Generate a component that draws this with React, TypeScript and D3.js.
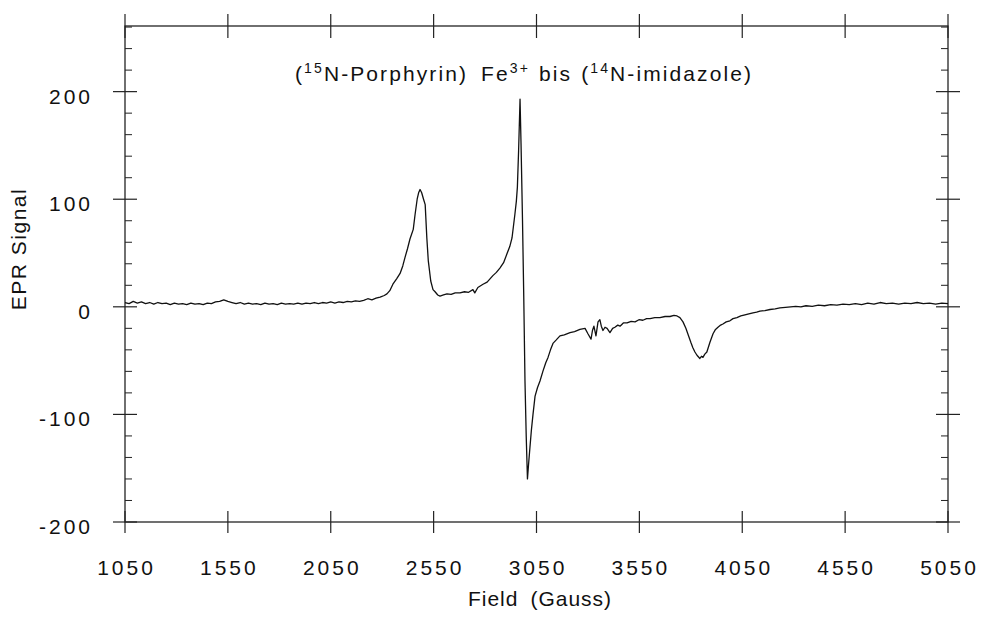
import React from "react";
import * as d3 from "d3";

const fieldGauss: number[] = [
  1050, 1070, 1090, 1110, 1130, 1150, 1170, 1190, 1210, 1230, 1250, 1270, 1290, 1310, 1330, 1350, 1370, 1390, 1410, 1430,
  1450, 1470, 1490, 1510, 1530, 1550, 1570, 1590, 1610, 1630, 1650, 1670, 1690, 1710, 1730, 1750, 1770, 1790, 1810, 1830,
  1850, 1870, 1890, 1910, 1930, 1950, 1970, 1990, 2010, 2030, 2050, 2070, 2090, 2110, 2130, 2150, 2170, 2190, 2210, 2230,
  2250, 2270, 2290, 2310, 2323, 2337, 2352, 2370, 2387, 2400, 2411, 2423, 2435, 2451, 2460, 2470, 2477, 2484, 2492, 2501,
  2509, 2517, 2524, 2536, 2547, 2557, 2570, 2581, 2598, 2615, 2635, 2655, 2678, 2700, 2720, 2741, 2750, 2765, 2790, 2810,
  2838, 2855, 2872, 2890, 2906, 2920, 2931, 2945, 2952, 2957, 2963, 2970, 2975, 2982, 2988, 2994, 3000, 3006, 3012, 3018,
  3025, 3033, 3043, 3055, 3067, 3081, 3095, 3106, 3118, 3130, 3145, 3164, 3185, 3213, 3235, 3261, 3286, 3300, 3315, 3322,
  3329, 3339, 3349, 3358, 3365, 3373, 3383, 3393, 3407, 3420, 3431, 3445, 3456, 3472, 3490, 3510, 3529, 3548, 3567, 3585,
  3602, 3625, 3650, 3675, 3699, 3718, 3733, 3747, 3762, 3776, 3791, 3800, 3810, 3820, 3830, 3844, 3852, 3859, 3868, 3878,
  3893, 3908, 3920, 3932, 3945, 3956, 3972, 3990, 4005, 4024, 4043, 4063, 4082, 4102, 4120, 4136, 4160, 4185, 4210, 4233,
  4260, 4285, 4310, 4335, 4360, 4390, 4420, 4450, 4480, 4510, 4540, 4570, 4600, 4630, 4660, 4690, 4720, 4750, 4780, 4810,
  4840, 4870, 4900, 4930, 4960, 4990, 5020, 5050,
];

const eprSignal: number[] = [
  4, 3, 5, 3.5, 4.5, 3, 4, 2.5, 4, 3, 3.5, 2, 3.5, 2.5, 3, 2, 3.5, 2.5, 3, 2,
  3.5, 3, 4.5, 5, 6.5, 5, 4, 3, 4, 2.5, 3.5, 2.5, 3, 2, 3.5, 2.5, 3, 2, 3.5, 2.5,
  3, 2.5, 3.5, 2.5, 3.5, 3, 4, 3, 4, 3.5, 4.5, 3.5, 4.5, 4, 5, 4.5, 5.5, 5, 6, 7.5,
  6.5, 8, 9, 10.5, 12, 15, 21, 26, 31, 38, 46, 54, 63, 72, 86, 100, 106, 109, 106, 100,
  95, 64, 43, 24, 16, 14, 11, 10, 11, 12, 11.5, 13, 13, 14, 13.5, 16, 13, 18, 21, 23,
  29, 32, 36, 41, 49, 56, 64, 86, 98, 111, 145, 193, 150, 80, 10, -69, -120, -160, -145, -131,
  -115, -100, -83, -75, -69, -60, -52, -47, -40, -34, -31, -27, -26, -24, -23, -21, -20, -25, -30, -22,
  -18, -27, -14, -12, -18, -22, -19, -20, -24, -20, -19, -17, -18, -15, -15, -13.5, -14, -12, -12.5, -11,
  -11, -10, -10, -9, -9, -8, -8.5, -10, -14, -20, -28, -33, -38, -42, -45, -48, -46, -47, -44, -42,
  -33, -25, -21, -19, -17, -16, -14, -13, -11, -10, -8.5, -7.5, -6.5, -5.6, -5, -4, -3.5, -2.5, -2, -1,
  -0.5, 0, 0.5, 0, 1, 0.5, 1.5, 1, 2, 1.5, 2.5, 2, 3, 2, 3.5, 2.5, 4, 3, 3.5, 2.5,
  3.5, 3, 4, 3, 3.5, 2.5, 3.5, 3,
];

const xTickValues: number[] = [1050, 1550, 2050, 2550, 3050, 3550, 4050, 4550, 5050];
const yTickValues: number[] = [-200, -100, 0, 100, 200];
const yMinorTickValues: number[] = [
  -180, -160, -140, -120, -80, -60, -40, -20, 20, 40, 60, 80, 120, 140, 160, 180, 220, 240, 260,
];

const W = 982;
const H = 617;
const L = 125;
const R = 948;
const T = 26;
const B = 522;
const FONT = "'Liberation Sans', Arial, Helvetica, sans-serif";

export default function App() {
  const x = d3.scaleLinear().domain([1050, 5050]).range([L, R]);
  const y = d3.scaleLinear().domain([-200, 261]).range([B, T]);
  const pts: [number, number][] = fieldGauss.map((g, i) => [g, eprSignal[i]]);
  const line = d3
    .line<[number, number]>()
    .x((d) => x(d[0]))
    .y((d) => y(d[1]));

  const tickColor = "#222";
  return (
    <div>
      <style>{"body{margin:0;background:#fff}"}</style>
      <svg width={W} height={H} style={{ display: "block" }} fontFamily={FONT}>
        <rect x={0} y={0} width={W} height={H} fill="#fff" />
        {/* frame */}
        <rect x={L} y={T} width={R - L} height={B - T} fill="none" stroke="#111" strokeWidth={1.2} />
        {/* x major ticks */}
        {xTickValues.map((v) => (
          <g key={"xt" + v}>
            <line x1={x(v)} x2={x(v)} y1={B - 11} y2={B + 11} stroke={tickColor} strokeWidth={1.2} />
            <line x1={x(v)} x2={x(v)} y1={T - 12} y2={T + 12} stroke={tickColor} strokeWidth={1.2} />
            <text
              x={x(v) + 1.5}
              y={575}
              fontSize={21}
              letterSpacing={3}
              textAnchor="middle"
              fill="#111"
            >
              {String(v)}
            </text>
          </g>
        ))}
        {/* y major ticks */}
        {yTickValues.map((v) => (
          <g key={"yt" + v}>
            <line x1={L - 12} x2={L + 12} y1={y(v)} y2={y(v)} stroke={tickColor} strokeWidth={1.2} />
            <line x1={R - 12} x2={R + 12} y1={y(v)} y2={y(v)} stroke={tickColor} strokeWidth={1.2} />
            <text x={93} y={y(v) + 12} fontSize={21} letterSpacing={3} textAnchor="end" fill="#111">
              {String(v)}
            </text>
          </g>
        ))}
        {/* y minor ticks */}
        {yMinorTickValues.map((v) => (
          <g key={"ym" + v}>
            <line x1={L} x2={L + 7} y1={y(v)} y2={y(v)} stroke={tickColor} strokeWidth={1} />
            <line x1={R - 7} x2={R} y1={y(v)} y2={y(v)} stroke={tickColor} strokeWidth={1} />
          </g>
        ))}
        {/* data */}
        <path d={line(pts) || ""} fill="none" stroke="#111" strokeWidth={1.3} strokeLinejoin="round" />
        {/* title */}
        <text x={295} y={81} fontSize={21} fill="#111" letterSpacing={2.1}>
          <tspan>(</tspan>
          <tspan fontSize={14} dy={-8}>15</tspan>
          <tspan dy={8}>N-Porphyrin)</tspan>
          <tspan dx={13}>Fe</tspan>
          <tspan fontSize={14} dy={-8}>3+</tspan>
          <tspan dy={8} dx={9}>bis</tspan>
          <tspan dx={9}>(</tspan>
          <tspan fontSize={14} dy={-8}>14</tspan>
          <tspan dy={8}>N-imidazole)</tspan>
        </text>
        {/* axis labels */}
        <text
          transform={`translate(26,249) rotate(-90)`}
          fontSize={21}
          textAnchor="middle"
          fill="#111"
          letterSpacing={1.5}
        >
          EPR Signal
        </text>
        <text x={540} y={606} fontSize={21} textAnchor="middle" fill="#111" letterSpacing={1}>
          Field
          <tspan dx={12}>(Gauss)</tspan>
        </text>
      </svg>
    </div>
  );
}
